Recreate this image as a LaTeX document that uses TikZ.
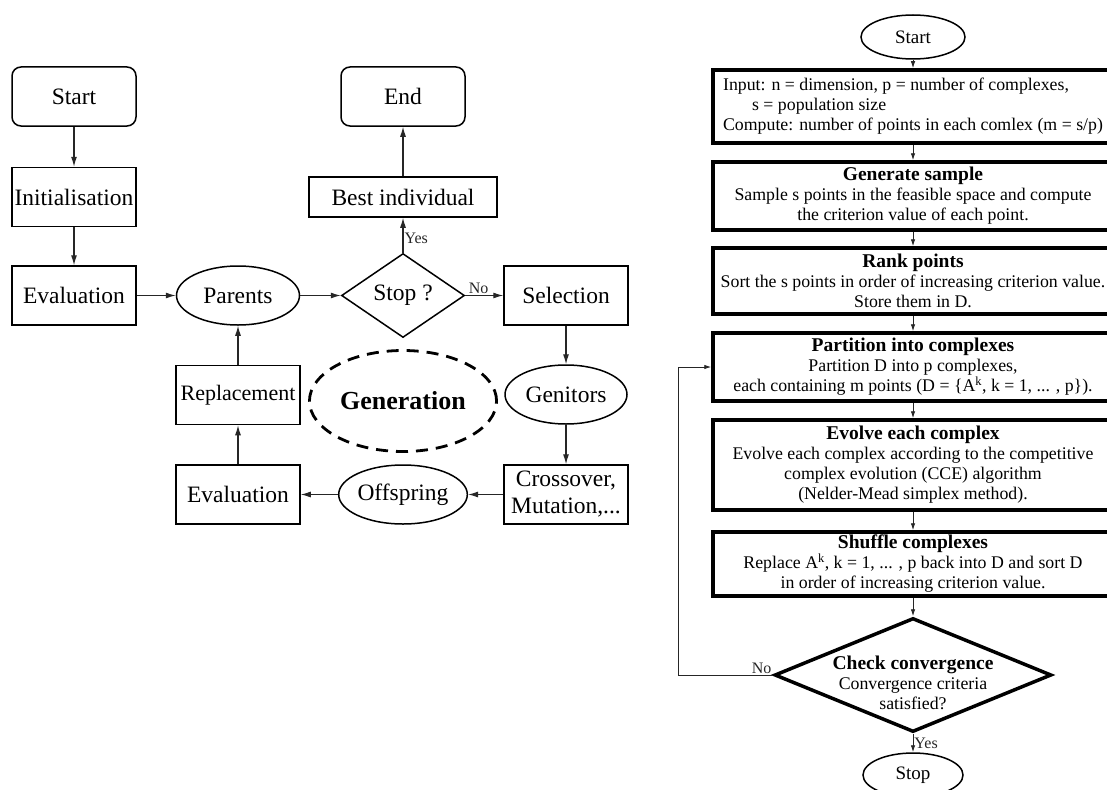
\documentclass[tikz,border=0pt]{standalone}
\usepackage{fontspec}
\setmainfont{Liberation Serif}
\usetikzlibrary{arrows.meta,shapes.geometric,positioning}

\newcommand{\lfont}{\fontsize{23.5}{27}\selectfont}
\newcommand{\rfont}{\fontsize{17.8}{20}\selectfont}
\newcommand{\rhead}[1]{{\fontsize{19.5}{20}\selectfont\bfseries #1}}

\begin{document}
\begin{tikzpicture}[x=1pt,y=-1pt,
	lbox/.style={draw, line width=1.5pt, minimum width=124pt, minimum height=59pt, inner sep=1pt, font=\lfont, align=center},
	lterm/.style={lbox, rounded corners=9pt},
	lell/.style={draw, ellipse, line width=1.5pt, minimum width=123pt, minimum height=59pt, inner sep=0pt, font=\lfont},
	ldec/.style={draw, diamond, line width=1.5pt, minimum width=123pt, minimum height=84pt, inner sep=0pt, font=\lfont},
	gen/.style={draw, ellipse, dash pattern=on 12pt off 8pt, line width=2.8pt, minimum width=164pt, minimum height=101pt, font=\fontsize{26}{26}\selectfont\bfseries},
	larr/.style={-{Latex[length=10pt,width=6pt]}, line width=1.1pt, black!85},
	rbox/.style={draw, line width=3.5pt, minimum width=400pt, inner sep=0pt, font=\rfont, align=center},
	rell/.style={draw, ellipse, line width=1.5pt, minimum width=104pt, minimum height=44pt, inner sep=0pt, font=\fontsize{19}{19}\selectfont},
	rarr/.style={-{Latex[length=7pt,width=4.5pt]}, line width=0.9pt, black!85},
	lab/.style={font=\fontsize{16}{16}\selectfont, inner sep=1pt}
	]
	\useasboundingbox (0,0) rectangle (1107,789);

	\node[lterm] (start) at (74,96.5) {Start};
	\node[lbox] (init) at (74,197) {Initialisation};
	\node[lbox] (eval) at (74,295.5) {Evaluation};
	\node[lell] (parents) at (238,295.5) {Parents};
	\node[ldec] (stop) at (403,295.5) {Stop ?};
	\node[lbox, minimum width=188pt, minimum height=40pt] (best) at (403,197) {Best individual};
	\node[lterm] (end) at (403,96.5) {End};
	\node[lbox] (sel) at (566,295.5) {Selection};
	\node[lell, minimum width=122pt] (genitors) at (566,394.5) {Genitors};
	\node[lbox] (cross) at (566,494.5) {Crossover,\\Mutation,...};
	\node[lell, minimum width=124pt] (offspring) at (403,494.5) {Offspring};
	\node[lbox] (eval2) at (238,494.5) {Evaluation};
	\node[lbox, font=\fontsize{22}{26}\selectfont] (repl) at (238,395) {Replacement};
	\node[gen] (generation) at (403,401) {Generation};

	\draw[larr] (start) -- (init);
	\draw[larr] (init) -- (eval);
	\draw[larr] (eval) -- (parents);
	\draw[larr] (parents) -- (stop);
	\draw[larr] (stop) -- node[lab, above, pos=0.35] {No} (sel);
	\draw[larr] (stop) -- node[lab, right, pos=0.4] {Yes} (best);
	\draw[larr] (best) -- (end);
	\draw[larr] (sel) -- (genitors);
	\draw[larr] (genitors) -- (cross);
	\draw[larr] (cross) -- (offspring);
	\draw[larr] (offspring) -- (eval2);
	\draw[larr] (eval2) -- (repl);
	\draw[larr] (repl) -- (parents);

	\node[rell] (rstart) at (913,37) {Start};
	\node[rbox, minimum height=73pt, align=left] (input) at (913,106.5) {Input: n = dimension, p = number of complexes,\\\hspace*{29pt}s = population size\\Compute: number of points in each comlex (m = s/p)};
	\node[rbox, minimum height=68pt] (sample) at (913,196) {\rhead{Generate sample}\\Sample s points in the feasible space and compute\\the criterion value of each point.};
	\node[rbox, minimum height=66pt] (rank) at (913,281) {\rhead{Rank points}\\Sort the s points in order of increasing criterion value.\\Store them in D.};
	\node[rbox, minimum height=68pt] (part) at (913,367) {\rhead{Partition into complexes}\\Partition D into p complexes,\\each containing m points (D = \{A\textsuperscript{k}, k = 1, ... , p\}).};
	\node[rbox, minimum height=90pt] (evolve) at (913,465) {\rhead{Evolve each complex}\\Evolve each complex according to the competitive\\complex evolution (CCE) algorithm\\(Nelder-Mead simplex method).};
	\node[rbox, minimum height=64pt] (shuffle) at (913,564) {\rhead{Shuffle complexes}\\Replace A\textsuperscript{k}, k = 1, ... , p back into D and sort D\\in order of increasing criterion value.};
	\node[draw, diamond, line width=3.5pt, minimum width=277pt, minimum height=114pt, inner sep=0pt] (check) at (913,675) {};
	\node[font=\rfont, align=center] (checktxt) at (913,683) {\rhead{Check convergence}\\Convergence criteria\\satisfied?};
	\node[rell, minimum width=100pt] (rstop) at (913,775) {Stop};
	\coordinate (back) at (678,675);

	\draw[rarr] (rstart) -- (input);
	\draw[rarr] (input) -- (sample);
	\draw[rarr] (sample) -- (rank);
	\draw[rarr] (rank) -- (part);
	\draw[rarr] (part) -- (evolve);
	\draw[rarr] (evolve) -- (shuffle);
	\draw[rarr] (shuffle) -- (check);
	\draw[rarr] (check) -- node[lab, right, midway] {Yes} (rstop);
	\draw[rarr] (check.west) -- node[lab, pos=0, anchor=south east] {No} (back) |- (part.west);
\end{tikzpicture}
\end{document}
